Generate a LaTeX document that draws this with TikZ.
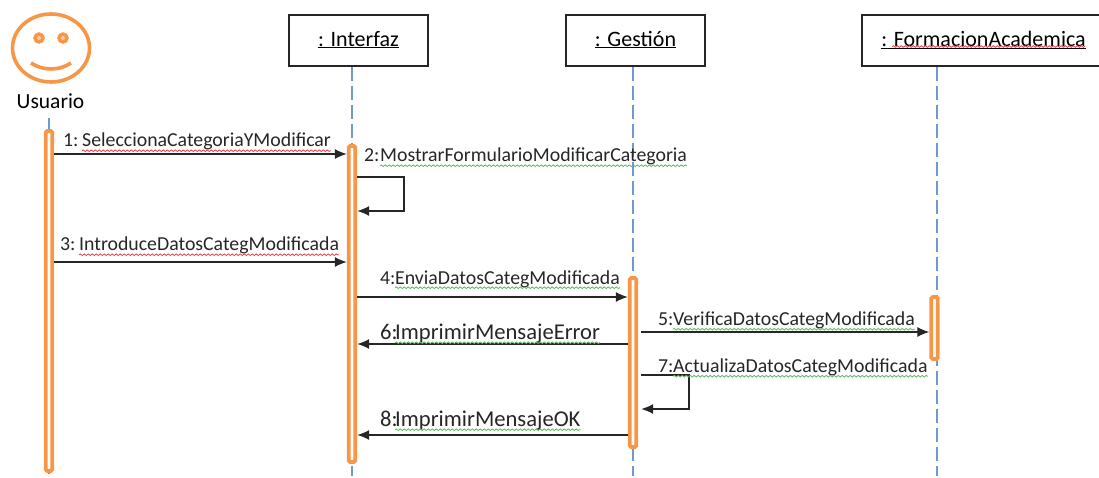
\documentclass[tikz,border=0pt]{standalone}
\usepackage{fontspec}
\setmainfont{Carlito}
\usetikzlibrary{arrows.meta,decorations.pathmorphing}

\definecolor{actorOrange}{HTML}{F79646}
\definecolor{lifeBlue}{HTML}{6F9AD0}
\definecolor{spellRed}{HTML}{E8404A}
\definecolor{spellGreen}{HTML}{5CB85C}

\newcommand{\boxtitle}[1]{\raisebox{4pt}{\underline{#1}}}

\tikzset{
  classbox/.style={draw=black!85, line width=1.3pt, minimum width=139pt, minimum height=51pt, inner sep=0pt, font=\fontsize{22}{25}\selectfont},
  actbar/.style={draw=actorOrange, fill=white, line width=3.8pt, rounded corners=1.5pt, minimum width=6.6pt, inner sep=0pt},
  lifeline/.style={lifeBlue, line width=1.3pt, dash pattern=on 14pt off 5pt},
  msg/.style={black!85, line width=1.2pt, -{Latex[length=12pt,width=10pt]}},
  msgnum/.style={anchor=base west, inner sep=0pt, text=black!85, font=\fontsize{19.8}{23}\selectfont},
  msgname/.style={anchor=base west, inner sep=0pt, text=black!85, text height=12pt, text depth=3.5pt, font=\fontsize{19.8}{23}\selectfont},
  bigmsg/.style={font=\fontsize{22.6}{26}\selectfont},
  redsquig/.style={spellRed, line width=.8pt, decorate, decoration={snake, amplitude=.8pt, segment length=4pt}},
  greensquig/.style={spellGreen, line width=.8pt, decorate, decoration={snake, amplitude=.8pt, segment length=4pt}}
}

\begin{document}
\begin{tikzpicture}[x=1pt,y=-1pt]
\useasboundingbox (0,0) rectangle (1099,478);

% actor
\draw [actorOrange, line width=3.6pt] (51,48) ellipse [x radius=38.5, y radius=34];
\draw [actorOrange, line width=3.4pt, fill=actorOrange!50] (39,38) circle [radius=4];
\draw [actorOrange, line width=3.4pt, fill=actorOrange!50] (63,38) circle [radius=4];
\draw [actorOrange, line width=3.6pt] (31,63) .. controls (43,71) and (59,71) .. (71,63);
\node (usuario) at (50.5,101) {\fontsize{21.5}{24}\selectfont Usuario};

% objects
\node [classbox] (interfaz) at (358.5,40.5) {\boxtitle{: Interfaz}};
\node [classbox] (gestion) at (635.5,40.5) {\boxtitle{: Gestión}};
\node [classbox, minimum width=243pt] (formacion) at (983.5,40.5) {\boxtitle{: FormacionAcademica}};

% lifelines
\coordinate (endU) at (49,476);
\coordinate (endI) at (352,476);
\coordinate (endG) at (633,476);
\coordinate (endF) at (937,476);
\draw [lifeline] (49,118) -- (endU);
\draw [lifeline] (interfaz.south -| endI) -- (endI);
\draw [lifeline] (gestion.south -| endG) -- (endG);
\draw [lifeline] (formacion.south -| endF) -- (endF);

% activations
\node [actbar, minimum height=340pt] (barU) at (49,301) {};
\node [actbar, minimum height=316pt] (barI) at (352,304) {};
\node [actbar, minimum height=169pt] (barG) at (633,362.5) {};
\node [actbar, minimum height=62pt] (barF) at (934.5,328) {};

% messages
\coordinate (y1) at (0,154);
\coordinate (y3) at (0,262);
\coordinate (y4) at (0,297);
\coordinate (y5) at (0,332);
\coordinate (y6) at (0,344);
\coordinate (y8) at (0,435);
\coordinate (turnI) at (404,177);
\coordinate (backI) at (404,211);
\coordinate (turnG) at (689,375);
\coordinate (backG) at (689,409);

\draw [msg] (barU.east |- y1) -- (barI.west |- y1);
\draw [msg] (barI.east |- turnI) -- (turnI) -- (backI) -- (barI.east |- backI);
\draw [msg] (barU.east |- y3) -- (barI.west |- y3);
\draw [msg] (barI.east |- y4) -- (barG.west |- y4);
\draw [msg] ([xshift=3pt]barG.east |- y5) -- (barF.west |- y5);
\draw [msg] (barG.west |- y6) -- (barI.east |- y6);
\draw [msg] ([xshift=3pt]barG.east |- turnG) -- (turnG) -- (backG) -- ([xshift=3pt]barG.east |- backG);
\draw [msg] (barG.west |- y8) -- (barI.east |- y8);

% labels
\node [msgnum] (n1) at (63,147) {1:};
\node [msgname] (m1) at (82,147) {SeleccionaCategoriaYModificar};
\node [msgnum] (n2) at (364,162) {2:};
\node [msgname] (m2) at (380,162) {MostrarFormularioModificarCategoria};
\node [msgnum] (n3) at (60,251) {3:};
\node [msgname] (m3) at (79,251) {IntroduceDatosCategModificada};
\node [msgnum] (n4) at (380,284) {4:};
\node [msgname] (m4) at (395,284) {EnviaDatosCategModificada};
\node [msgnum] (n5) at (658,325.5) {5:};
\node [msgname] (m5) at (673,325.5) {VerificaDatosCategModificada};
\node [msgnum, bigmsg] (n6) at (380,339) {6:};
\node [msgname, bigmsg] (m6) at (395,339) {ImprimirMensajeError};
\node [msgnum] (n7) at (658,372.5) {7:};
\node [msgname] (m7) at (673,372.5) {ActualizaDatosCategModificada};
\node [msgnum, bigmsg] (n8) at (380,426) {8:};
\node [msgname, bigmsg] (m8) at (395,426) {ImprimirMensajeOK};

% spelling marks
\coordinate (sqA) at (892,46.5);
\coordinate (sqB) at (1085,46.5);
\draw [redsquig] (m1.south west) -- (m1.south east);
\draw [greensquig] (m2.south west) -- (m2.south east);
\draw [redsquig] (m3.south west) -- (m3.south east);
\draw [greensquig] (m4.south west) -- (m4.south east);
\draw [greensquig] (m5.south west) -- (m5.south east);
\draw [greensquig] (m6.south west) -- (m6.south east);
\draw [greensquig] (m7.south west) -- (m7.south east);
\draw [greensquig] (m8.south west) -- (m8.south east);
\draw [redsquig] (sqA) -- (sqB);
\end{tikzpicture}
\end{document}
